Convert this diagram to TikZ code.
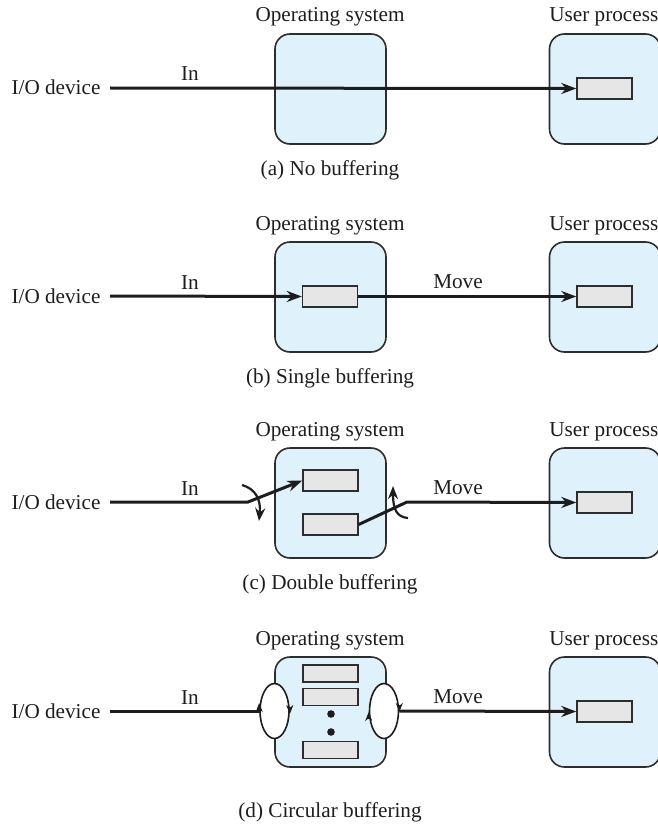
\documentclass[tikz,border=0pt]{standalone}
\usepackage{fontspec}
\setmainfont{Liberation Serif}
\usetikzlibrary{arrows.meta,shapes.geometric}
\definecolor{boxfill}{RGB}{223,241,251}
\definecolor{bufill}{RGB}{230,230,230}
\definecolor{edge}{RGB}{45,45,45}
\definecolor{ink}{RGB}{30,28,29}
\begin{document}
\begin{tikzpicture}[x=0.5pt,y=-0.5pt,
  lab/.style={font=\fontsize{10.6}{12}\selectfont, inner sep=0pt, text=ink},
  region/.style={draw=edge, fill=boxfill, line width=0.8pt, rounded corners=7.5pt, minimum width=55.5pt, minimum height=55pt, inner sep=0pt},
  buf/.style={draw=edge, fill=bufill, line width=0.7pt, minimum width=27.5pt, minimum height=10.5pt, inner sep=0pt},
  smallbuf/.style={buf, minimum height=8.5pt},
  flow/.style={draw=ink, line width=1.5pt, -{Stealth[length=7.5pt,width=5.5pt]}},
  plain/.style={draw=ink, line width=1.5pt},
  swing/.style={draw=ink, line width=1.1pt, -{Stealth[length=6.5pt,width=5pt]}},
  ring/.style={ellipse, draw=ink, fill=white, line width=0.8pt, minimum width=14.5pt, minimum height=27.5pt, inner sep=0pt},
  ringtip/.style={draw=ink, line width=0.8pt, -{Stealth[length=4.5pt,width=3.5pt]}},
  dot/.style={circle, fill=ink, inner sep=0pt, minimum size=3.8pt}
]
\clip (0,0) rectangle (658,824);
% ---------------- (a) No buffering
\begin{scope}[shift={(0,88)}]
  \node[region] (osa) at (330.5,1) {};
  \node[region] (upa) at (605,1) {};
  \node[buf] (ubufa) at (604.5,0.5) {};
  \node[lab,anchor=base] (osla) at (330,-66) {Operating system};
  \node[lab,anchor=base west] (upla) at (549,-66) {User process};
  \node[lab,anchor=base] (ioa) at (56,7) {I/O device};
  \node[lab,anchor=base] (ina) at (190,-7) {In};
  \node[lab,anchor=base] (capa) at (330,87) {(a) No buffering};
  \coordinate (sa) at (110,0);
  \draw[flow] (sa) -- (ubufa.west);
\end{scope}
% ---------------- (b) Single buffering
\begin{scope}[shift={(0,296)}]
  \node[region] (osb) at (330.5,1) {};
  \node[region] (upb) at (605,1) {};
  \node[buf] (bufb) at (330,0.5) {};
  \node[buf] (ubufb) at (604.5,0.5) {};
  \node[lab,anchor=base] (oslb) at (330,-66) {Operating system};
  \node[lab,anchor=base west] (uplb) at (549,-66) {User process};
  \node[lab,anchor=base] (iob) at (56,7) {I/O device};
  \node[lab,anchor=base] (inb) at (190,-7) {In};
  \node[lab,anchor=base] (mvb) at (458,-8) {Move};
  \node[lab,anchor=base] (capb) at (330,87) {(b) Single buffering};
  \coordinate (sb) at (110,0);
  \draw[flow] (sb) -- (bufb.west);
  \draw[flow] (bufb.east) -- (ubufb.west);
\end{scope}
% ---------------- (c) Double buffering
\begin{scope}[shift={(0,502)}]
  \node[region] (osc) at (330.5,1) {};
  \node[region] (upc) at (605,1) {};
  \node[buf] (bufc1) at (330.5,-21.5) {};
  \node[buf] (bufc2) at (330.5,22.5) {};
  \node[buf] (ubufc) at (604.5,0.5) {};
  \node[lab,anchor=base] (oslc) at (330,-66) {Operating system};
  \node[lab,anchor=base west] (uplc) at (549,-66) {User process};
  \node[lab,anchor=base] (ioc) at (56,7) {I/O device};
  \node[lab,anchor=base] (inc) at (190,-7) {In};
  \node[lab,anchor=base] (mvc) at (458,-8) {Move};
  \node[lab,anchor=base] (capc) at (330,87) {(c) Double buffering};
  \coordinate (sc) at (110,0);
  \coordinate (kc) at (248,0);
  \coordinate (mc) at (407,0);
  \draw[flow] (sc) -- (kc) -- (bufc1.west);
  \draw[flow] (bufc2.east) -- (mc) -- (ubufc.west);
  \coordinate (c1s) at (242,-17);
  \coordinate (c1e) at (259,19);
  \coordinate (c2s) at (408,16);
  \coordinate (c2e) at (393,-16);
  \draw[swing] (c1s) .. controls (256,-13) and (261,-2) .. (c1e);
  \draw[swing] (c2s) .. controls (397,15) and (393,8) .. (c2e);
\end{scope}
% ---------------- (d) Circular buffering
\begin{scope}[shift={(0,711)}]
  \node[region] (osd) at (330.5,1) {};
  \node[region] (upd) at (605,1) {};
  \node[smallbuf] (bufd1) at (330.5,-37.5) {};
  \node[smallbuf] (bufd2) at (330.5,-14) {};
  \node[smallbuf] (bufd3) at (330.5,39) {};
  \node[dot] (dotd1) at (331,3) {};
  \node[dot] (dotd2) at (331,21) {};
  \node[buf] (ubufd) at (604.5,0.5) {};
  \node[ring] (ringl) at (274.5,0) {};
  \node[ring] (ringr) at (384,0) {};
  \draw[ringtip] ([yshift=-1pt]ringl.west) -- ([yshift=4pt]ringl.west);
  \draw[ringtip] ([yshift=2pt]ringl.east) -- ([yshift=-1.5pt]ringl.east);
  \draw[ringtip] ([yshift=-4pt]ringr.west) -- ([yshift=-0.5pt]ringr.west);
  \draw[ringtip] ([yshift=3pt]ringr.east) -- ([yshift=-0.5pt]ringr.east);
  \node[lab,anchor=base] (osld) at (330,-66) {Operating system};
  \node[lab,anchor=base west] (upld) at (549,-66) {User process};
  \node[lab,anchor=base] (iod) at (56,7) {I/O device};
  \node[lab,anchor=base] (ind) at (190,-7) {In};
  \node[lab,anchor=base] (mvd) at (458,-8) {Move};
  \node[lab,anchor=base] (capd) at (330,106) {(d) Circular buffering};
  \coordinate (sd) at (110,0);
  \draw[plain] (sd) -- (ringl.west);
  \draw[flow] (ringr.east) -- (ubufd.west);
\end{scope}
\end{tikzpicture}
\end{document}
